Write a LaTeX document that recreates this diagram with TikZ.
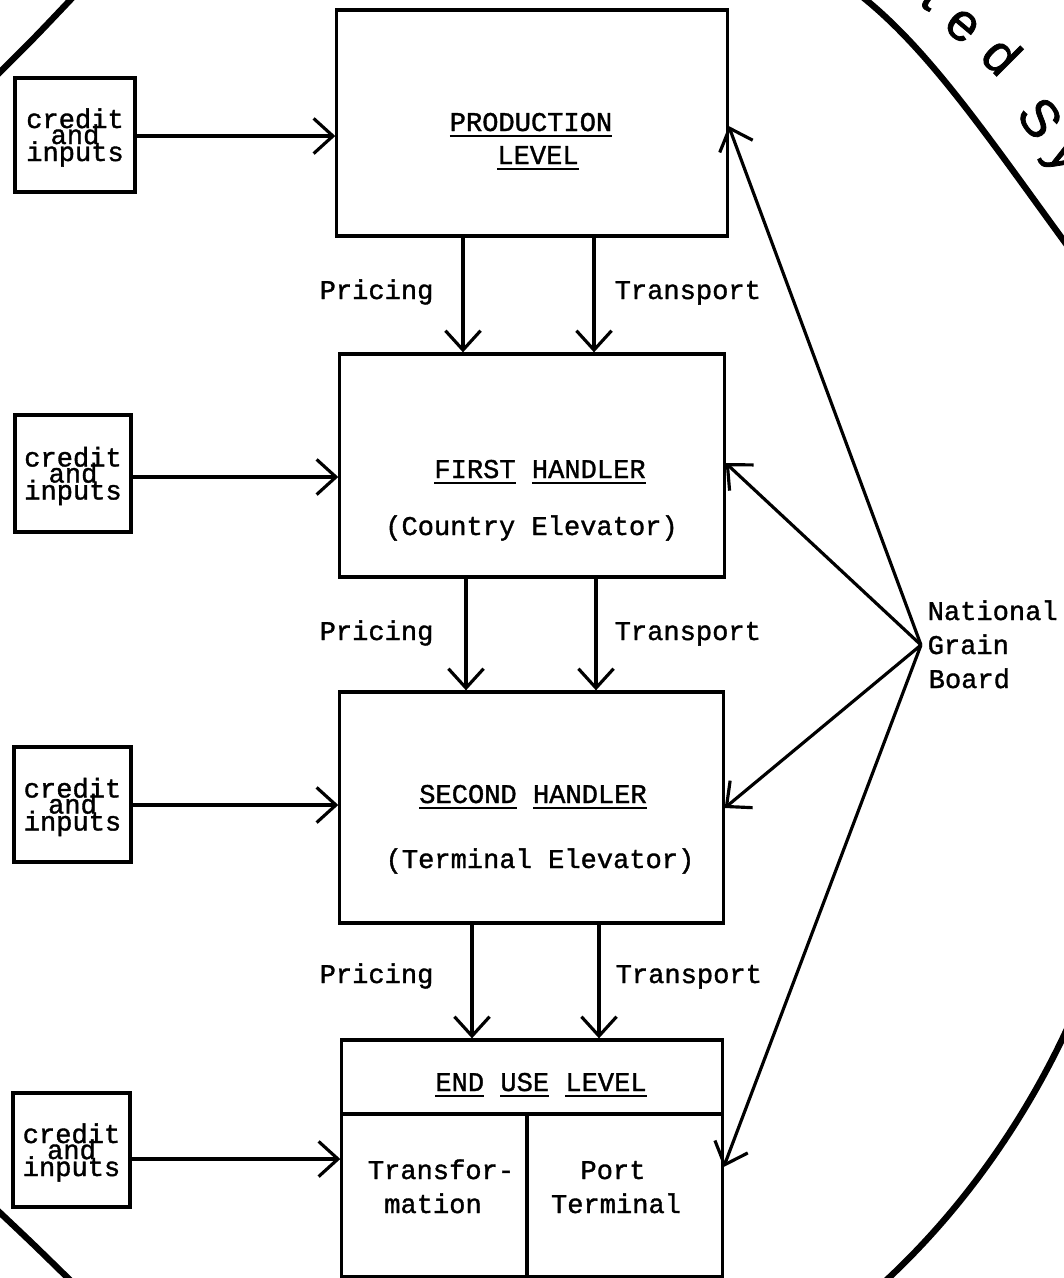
\documentclass[tikz,border=0pt]{standalone}
\usepackage{fontspec}
\newfontfamily\twfont{Liberation Mono}[FakeBold=1.3]
\newfontfamily\handfont{Liberation Sans}[FakeBold=1.5]
\usetikzlibrary{arrows.meta}
\newcommand\uln[1]{\setbox0=\hbox{#1}\rlap{\rule[-1.8pt]{\wd0}{0.75pt}}\box0\relax}
\tikzset{
  mainbox/.style={draw, line width=0.9pt, inner sep=0pt},
  credbox/.style={draw, line width=1.1pt, inner sep=0pt},
  tw/.style={font=\twfont\fontsize{7.7pt}{9pt}\selectfont, inner sep=0pt},
  arr/.style={line width=0.9pt, -{Straight Barb[length=5.5pt,width=10pt]}},
  circ/.style={line width=1.8pt, line cap=round},
  hand/.style={font=\handfont\fontsize{15pt}{15pt}\selectfont, inner sep=0pt}
}
\begin{document}
\begin{tikzpicture}[x=0.01cm, y=-0.01cm]
\useasboundingbox (0,0) rectangle (1064,1278);
\clip (0,0) rectangle (1064,1278);

% outer hand-drawn circle pieces
\draw[circ] plot[smooth] coordinates {(-5,77) (35,37) (75,-5)};
\draw[circ] plot[smooth] coordinates {(-5,1208) (33,1244) (73,1283)};
\draw[circ] (860,-5) .. controls (930,50) and (990,140) .. (1072,252);
\draw[circ] (1072,1018) .. controls (1040,1090) and (980,1195) .. (880,1286);

% handwritten title fragment
\node[hand, rotate=-35] (l1) at (933,-6) {t};
\node[hand, rotate=-40] (l2) at (962,26) {e};
\node[hand, rotate=-45] (l3) at (1002,55) {d};
\node[hand, rotate=-55] (l4) at (1040,118) {S};
\node[hand, rotate=-60] (l5) at (1060,160) {y};

% main boxes
\node[mainbox, minimum width=3.90cm, minimum height=2.26cm] (prod) at (532,123) {};
\node[mainbox, minimum width=3.84cm, minimum height=2.23cm] (first) at (532,465.5) {};
\node[mainbox, minimum width=3.83cm, minimum height=2.31cm] (second) at (531.5,807.5) {};
\node[mainbox, minimum width=3.80cm, minimum height=2.36cm] (enduse) at (532,1158) {};
\coordinate (divy) at (0,1114);
\coordinate (divx) at (527,0);
\draw[line width=0.9pt] (enduse.west |- divy) -- (enduse.east |- divy);
\draw[line width=0.9pt] (divx |- divy) -- (divx |- enduse.south);

% box texts
\node[tw, anchor=base] (t1) at (531,131) {\uln{PRODUCTION}};
\node[tw, anchor=base] (t2) at (538,164) {\uln{LEVEL}};
\node[tw, anchor=base] (t3) at (540,478) {\uln{FIRST} \uln{HANDLER}};
\node[tw, anchor=base] (t4) at (531.5,535) {(Country Elevator)};
\node[tw, anchor=base] (t5) at (533,803) {\uln{SECOND} \uln{HANDLER}};
\node[tw, anchor=base] (t6) at (540,868) {(Terminal Elevator)};
\node[tw, anchor=base] (t7) at (541,1091) {\uln{END} \uln{USE} \uln{LEVEL}};
\node[tw, anchor=base] (t8) at (441,1179) {Transfor-};
\node[tw, anchor=base] (t9) at (433,1213) {mation};
\node[tw, anchor=base] (t10) at (613,1179) {Port};
\node[tw, anchor=base] (t11) at (616,1213) {Terminal};

% credit boxes
\foreach \n/\cx/\cy/\w/\h/\ay in {1/75/135/1.20/1.14/136, 2/73/473.5/1.16/1.17/477, 3/72.5/804.5/1.17/1.15/805, 4/71.5/1150/1.17/1.14/1159}{
  \node[credbox, minimum width=\w cm, minimum height=\h cm] (c\n) at (\cx,\cy) {};
  \node[tw, anchor=base] (c\n a) at (\cx,\cy-7) {credit};
  \node[tw, anchor=base] (c\n b) at (\cx,\cy+9) {and};
  \node[tw, anchor=base] (c\n c) at (\cx,\cy+26) {inputs};
  \coordinate (ay\n) at (0,\ay);
}
\draw[arr] (c1.east |- ay1) -- (prod.west |- ay1);
\draw[arr] (c2.east |- ay2) -- (first.west |- ay2);
\draw[arr] (c3.east |- ay3) -- (second.west |- ay3);
\draw[arr] (c4.east |- ay4) -- (enduse.west |- ay4);

% vertical flows
\coordinate (xa1) at (463,0); \coordinate (xb1) at (594,0);
\coordinate (xa2) at (466,0); \coordinate (xb2) at (596,0);
\coordinate (xa3) at (472,0); \coordinate (xb3) at (599,0);
\draw[arr] (prod.south -| xa1) -- (first.north -| xa1);
\draw[arr] (prod.south -| xb1) -- (first.north -| xb1);
\draw[arr] (first.south -| xa2) -- (second.north -| xa2);
\draw[arr] (first.south -| xb2) -- (second.north -| xb2);
\draw[arr] (second.south -| xa3) -- (enduse.north -| xa3);
\draw[arr] (second.south -| xb3) -- (enduse.north -| xb3);

\node[tw, anchor=base west] (p1) at (319,299) {Pricing};
\node[tw, anchor=base west] (q1) at (614,299) {Transport};
\node[tw, anchor=base west] (p2) at (319,640) {Pricing};
\node[tw, anchor=base west] (q2) at (614,640) {Transport};
\node[tw, anchor=base west] (p3) at (319,983) {Pricing};
\node[tw, anchor=base west] (q3) at (615,983) {Transport};

% National Grain Board
\node[tw, anchor=base west] (n1) at (927,620) {National};
\node[tw, anchor=base west] (n2) at (927,654) {Grain};
\node[tw, anchor=base west] (n3) at (928,688) {Board};
\coordinate (hub) at (921,645);
\coordinate (h1) at (0,126);
\coordinate (h2) at (0,463);
\coordinate (h3) at (0,808);
\coordinate (h4) at (0,1167);
\draw[arr] (hub) -- (prod.east |- h1);
\draw[arr] (hub) -- (first.east |- h2);
\draw[arr] (hub) -- (second.east |- h3);
\draw[arr] (hub) -- (enduse.east |- h4);
\end{tikzpicture}
\end{document}
